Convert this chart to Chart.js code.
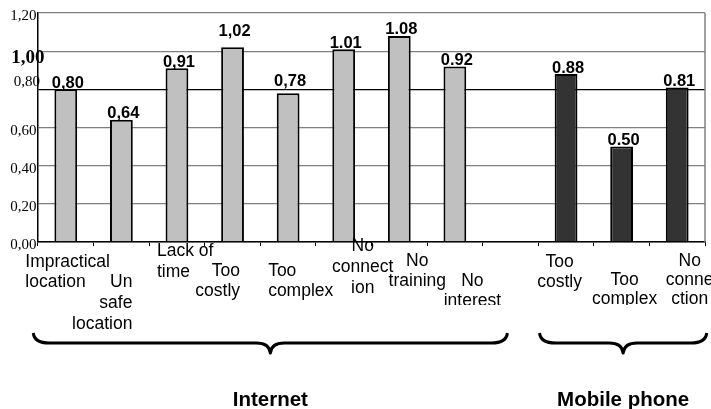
<!DOCTYPE html>
<html>
<head>
<meta charset="utf-8">
<script src="https://cdn.jsdelivr.net/npm/chart.js@4.4.1/dist/chart.umd.min.js"></script>
<style>
  html, body { margin: 0; padding: 0; background: #fff; }
  #wrap { width: 711px; height: 409px; }
</style>
</head>
<body>
<div id="wrap"><canvas id="myChart" width="711" height="409"></canvas></div>
<script>
// category names, split into the lines shown under each bar (index 8 is the gap)
const categoryLines = [
  ['Impractical', 'location'],
  ['Un', 'safe', 'location'],
  ['Lack of', 'time'],
  ['Too', 'costly'],
  ['Too', 'complex'],
  ['No', 'connect', 'ion'],
  ['No', 'training'],
  ['No', 'interest'],
  [],
  ['Too', 'costly'],
  ['Too', 'complex'],
  ['No', 'conne', 'ction']
];
const internetValues = [0.80, 0.64, 0.91, 1.02, 0.78, 1.01, 1.08, 0.92, null, null, null, null];
const mobileValues   = [null, null, null, null, null, null, null, null, null, 0.88, 0.50, 0.81];
const valueLabels = ['0,80', '0,64', '0,91', '1,02', '0,78', '1.01', '1.08', '0.92', '', '0.88', '0.50', '0.81'];
const yTicks = [0, 0.2, 0.4, 0.6, 0.8, 1.0, 1.2];
const yTickLabels = ['0,00', '0,20', '0,40', '0,60', '0,80', '1,00', '1,20'];
const groupNames = ['Internet', 'Mobile phone'];
const groupRanges = [[0, 7], [9, 11]];

// styling for the hand-placed texts
const catStyle = [
  { align: 'left',   dx: -40.5, y0: 267, lh: 20 },
  { align: 'right',  dx: 11,    y0: 287, lh: 21, clip: 329 },
  { align: 'left',   dx: -20,   y0: 256, lh: 20.5 },
  { align: 'right',  dx: 7.5,   y0: 276, lh: 20 },
  { align: 'left',   dx: -20,   y0: 276, lh: 20 },
  { align: 'center', dx: 19,    y0: 251, lh: 21 },
  { align: 'center', dx: 18,    y0: 266, lh: 20 },
  { align: 'center', dx: 17.5,  y0: 286, lh: 19.5, clip: 305 },
  { align: 'center', dx: 0,     y0: 0,   lh: 0 },
  { align: 'center', dx: -6.5,  y0: 267, lh: 20 },
  { align: 'center', dx: 3,     y0: 285, lh: 19, clip: 305 },
  { align: 'center', dx: 12.5,  y0: 266, lh: 19 }
];
const valueLift = [0, 0, 0, 10, 6, 0, 0, 0, 0, 0, 0, 0];
const yLabelStyle = {
  0.8: { font: '15px "Liberation Serif"', dx: 3.5, dy: -7 },
  1.0: { font: 'bold 19px "Liberation Serif"', dx: 8, dy: 7 }
};
const braceStyle = [{ l: -32.5, r: 52.5 }, { l: -26.5, r: 29.5 }];

const annotate = {
  id: 'annotate',
  afterDatasetsDraw(chart) {
    const { ctx, chartArea, scales: { x, y } } = chart;
    ctx.save();

    // right frame line
    ctx.strokeStyle = '#808080';
    ctx.lineWidth = 1.5;
    ctx.beginPath();
    ctx.moveTo(chartArea.right, chartArea.top);
    ctx.lineTo(chartArea.right, chartArea.bottom);
    ctx.stroke();

    // y tick labels
    ctx.fillStyle = '#000';
    ctx.textAlign = 'right';
    ctx.textBaseline = 'middle';
    yTicks.forEach((v, i) => {
      const st = yLabelStyle[v] || { font: '15px "Liberation Serif"', dx: 0, dy: 3.5 };
      ctx.font = st.font;
      ctx.fillText(yTickLabels[i], chartArea.left - 1.5 + st.dx, y.getPixelForValue(v) + st.dy);
    });

    // value labels above bars
    ctx.font = 'bold 16.5px "Liberation Sans"';
    ctx.textAlign = 'center';
    ctx.textBaseline = 'alphabetic';
    chart.data.datasets.forEach((ds, d) => {
      chart.getDatasetMeta(d).data.forEach((bar, i) => {
        if (ds.data[i] == null) return;
        ctx.fillText(valueLabels[i], bar.x + 2, bar.y - 1.5 - valueLift[i]);
      });
    });

    // category labels
    ctx.font = '17.5px "Liberation Sans"';
    categoryLines.forEach((lines, i) => {
      const st = catStyle[i];
      const cx = x.getPixelForValue(i) + st.dx;
      ctx.save();
      if (st.clip) {
        ctx.beginPath();
        ctx.rect(0, 0, chart.width, st.clip);
        ctx.clip();
      }
      ctx.textAlign = st.align;
      lines.forEach((t, k) => ctx.fillText(t, cx, st.y0 + k * st.lh));
      ctx.restore();
    });

    // braces and group names
    const yEnd = 333, yLine = 343, yTip = 353;
    ctx.strokeStyle = '#000';
    ctx.lineWidth = 3;
    ctx.lineJoin = 'round';
    groupRanges.forEach((rg, g) => {
      const x1 = x.getPixelForValue(rg[0]) + braceStyle[g].l;
      const x2 = x.getPixelForValue(rg[1]) + braceStyle[g].r;
      const xm = (x1 + x2) / 2;
      ctx.beginPath();
      ctx.moveTo(x1, yEnd);
      ctx.quadraticCurveTo(x1 + 1, yLine, x1 + 16, yLine);
      ctx.lineTo(xm - 14, yLine);
      ctx.quadraticCurveTo(xm - 1, yLine, xm, yTip);
      ctx.quadraticCurveTo(xm + 1, yLine, xm + 14, yLine);
      ctx.lineTo(x2 - 16, yLine);
      ctx.quadraticCurveTo(x2 - 1, yLine, x2, yEnd);
      ctx.stroke();

      ctx.font = 'bold 20.5px "Liberation Sans"';
      ctx.textAlign = 'center';
      ctx.fillText(groupNames[g], xm, 406);
    });

    ctx.restore();
  }
};

const ctx = document.getElementById('myChart').getContext('2d');
const myChart = new Chart(ctx, {
  type: 'bar',
  data: {
    labels: categoryLines.map(l => l.join(' ')),
    datasets: [{
      data: internetValues,
      backgroundColor: '#C0C0C0',
      borderColor: '#000',
      borderWidth: 2,
      borderSkipped: 'bottom'
    }, {
      data: mobileValues,
      backgroundColor: '#333333',
      borderColor: '#000',
      borderWidth: 2,
      borderSkipped: 'bottom'
    }]
  },
  options: {
    responsive: false,
    animation: false,
    devicePixelRatio: 1,
    layout: { padding: { left: 38, right: 6, top: 13, bottom: 163 } },
    datasets: { bar: { grouped: false, barPercentage: 0.41, categoryPercentage: 1 } },
    scales: {
      x: {
        grid: {
          offset: true,
          drawOnChartArea: false,
          drawTicks: true,
          tickLength: 4,
          color: '#000'
        },
        border: { color: '#000', width: 1.5 },
        ticks: { display: false }
      },
      y: {
        min: 0,
        max: 1.2,
        afterBuildTicks: axis => { axis.ticks = yTicks.map(v => ({ value: v })); },
        grid: {
          drawTicks: false,
          color: c => (c.tick && c.tick.value === 0.8) ? '#000' : '#808080',
          lineWidth: 1.3
        },
        border: { color: '#000', width: 1.5 },
        ticks: { display: false }
      }
    },
    plugins: {
      legend: { display: false },
      tooltip: { enabled: false }
    }
  },
  plugins: [annotate]
});
</script>
</body>
</html>
